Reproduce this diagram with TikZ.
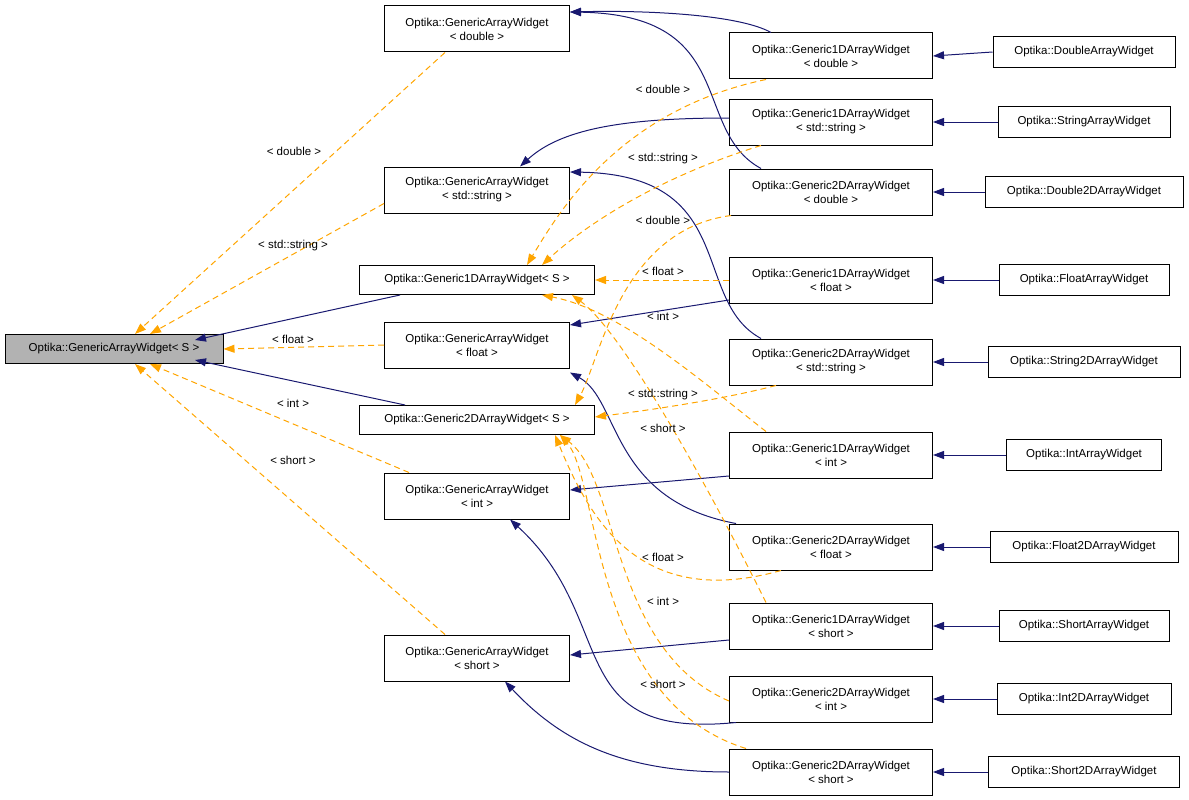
\documentclass[tikz,border=0pt]{standalone}
\usepackage{fontspec}
\setmainfont{Liberation Sans}
\usetikzlibrary{arrows.meta}
\definecolor{nav}{RGB}{25,25,112}
\definecolor{org}{RGB}{255,165,0}
\begin{document}
\begin{tikzpicture}[x=1pt,y=-1pt,line width=1pt,
  every node/.style={font=\fontsize{11.5}{14}\selectfont},
  box/.style={draw,fill=white,align=center,inner sep=0pt,minimum height=46},
  sbox/.style={draw,fill=white,inner sep=0pt,minimum height=29},
  c2/.style={box,minimum width=203},
  c3/.style={draw,fill=white,inner sep=0pt,minimum height=31},
  gt/.style={box,minimum width=185},
  nv/.style={draw=nav,-{Triangle[length=11pt,width=8pt,fill=nav]}},
  og/.style={draw=org,dash pattern=on 6pt off 4pt,-{Triangle[length=11pt,width=8pt,fill=org]}},
  lb/.style={inner sep=1pt,fill=none}]
\useasboundingbox (0,0) rectangle (1189,800);
% edges first so boxes sit on top
\begin{scope}[on background layer/.style={}]
\end{scope}
% nodes
\node[sbox,fill=gray!60,minimum width=218] (gs) at (114,349) {Optika::GenericArrayWidget< S >};
\node[gt] (gd) at (477,29) {Optika::GenericArrayWidget\\< double >};
\node[gt] (gstr) at (477,190) {Optika::GenericArrayWidget\\< std::string >};
\node[sbox,minimum width=235] (g1) at (477,280) {Optika::Generic1DArrayWidget< S >};
\node[gt] (gf) at (477,345) {Optika::GenericArrayWidget\\< float >};
\node[sbox,minimum width=235] (g2) at (477,420) {Optika::Generic2DArrayWidget< S >};
\node[gt] (gi) at (477,496) {Optika::GenericArrayWidget\\< int >};
\node[gt] (gsh) at (477,658) {Optika::GenericArrayWidget\\< short >};
\node[c2] (a1) at (831,56) {Optika::Generic1DArrayWidget\\< double >};
\node[c2] (a2) at (831,122) {Optika::Generic1DArrayWidget\\< std::string >};
\node[c2] (a3) at (831,192) {Optika::Generic2DArrayWidget\\< double >};
\node[c2] (a4) at (831,280) {Optika::Generic1DArrayWidget\\< float >};
\node[c2] (a5) at (831,362) {Optika::Generic2DArrayWidget\\< std::string >};
\node[c2] (a6) at (831,455) {Optika::Generic1DArrayWidget\\< int >};
\node[c2] (a7) at (831,547) {Optika::Generic2DArrayWidget\\< float >};
\node[c2] (a8) at (831,626) {Optika::Generic1DArrayWidget\\< short >};
\node[c2] (a9) at (831,699) {Optika::Generic2DArrayWidget\\< int >};
\node[c2] (a10) at (831,772) {Optika::Generic2DArrayWidget\\< short >};
\node[c3,minimum width=182] (b1) at (1084,52) {Optika::DoubleArrayWidget};
\node[c3,minimum width=172] (b2) at (1084,122) {Optika::StringArrayWidget};
\node[c3,minimum width=198] (b3) at (1084,192) {Optika::Double2DArrayWidget};
\node[c3,minimum width=170] (b4) at (1084,280) {Optika::FloatArrayWidget};
\node[c3,minimum width=192] (b5) at (1084,362) {Optika::String2DArrayWidget};
\node[c3,minimum width=155] (b6) at (1084,455) {Optika::IntArrayWidget};
\node[c3,minimum width=188] (b7) at (1084,547) {Optika::Float2DArrayWidget};
\node[c3,minimum width=170] (b8) at (1084,626) {Optika::ShortArrayWidget};
\node[c3,minimum width=174] (b9) at (1084,699) {Optika::Int2DArrayWidget};
\node[c3,minimum width=191] (b10) at (1084,772) {Optika::Short2DArrayWidget};
% col3 -> col2
\foreach \i in {1,...,10} {\draw[nv] (b\i.west) -- (a\i.east -| a\i.east);}
% col2 -> GAW<T>
\draw[nv] ([xshift=-60]a1.north) .. controls (740,15) and (650,10) .. ([yshift=17]gd.east);
\draw[nv] ([xshift=-70]a3.north) .. controls (690,130) and (740,15) .. ([yshift=17]gd.east);
\draw[nv] ([yshift=4]a2.west) .. controls (620,118) and (560,130) .. ([xshift=43]gstr.north);
\draw[nv] ([xshift=-70]a5.north) .. controls (690,300) and (740,175) .. ([yshift=18]gstr.east);
\draw[nv] ([yshift=-20]a4.west) -- ([yshift=20]gf.east);
\draw[nv] ([xshift=-95]a7.north) .. controls (610,500) and (620,400) .. ([xshift=93,yshift=-4]gf.south);
\draw[nv] ([yshift=-21]a6.west) -- ([yshift=6]gi.east);
\draw[nv] ([xshift=-95]a9.south) .. controls (560,740) and (620,620) .. ([xshift=33]gi.south);
\draw[nv] ([yshift=-14]a8.west) -- ([yshift=3]gsh.east);
\draw[nv] (a10.west) .. controls (620,772) and (560,740) .. ([xshift=28]gsh.south);
% col2 -> templates
\draw[og] ([xshift=-65]a1.south) .. controls (620,110) and (560,210) .. ([xshift=50]g1.north);
\draw[og] ([xshift=-70]a2.south) .. controls (650,180) and (580,230) .. ([xshift=65]g1.north);
\draw[og] (a4.west) -- (g1.east);
\draw[og] ([xshift=-65]a6.north) .. controls (700,380) and (620,310) .. ([xshift=65]g1.south);
\draw[og] ([xshift=-65]a8.north) .. controls (700,470) and (620,330) .. ([xshift=95]g1.south);
\draw[og] ([xshift=-100]a3.south) .. controls (620,230) and (600,360) .. ([xshift=98]g2.north);
\draw[og] ([xshift=-55]a5.south) .. controls (720,400) and (650,410) .. ([yshift=3]g2.east);
\draw[og] ([xshift=-50]a7.south) .. controls (640,610) and (590,520) .. ([xshift=78]g2.south);
\draw[og] ([yshift=-2]a9.west) .. controls (610,650) and (620,480) .. ([xshift=83]g2.south);
\draw[og] ([xshift=-85]a10.north) .. controls (590,700) and (600,480) .. ([xshift=83]g2.south);
\node[lb] (l1) at (663,89) {< double >};
\node[lb] (l2) at (663,159) {< std::string >};
\node[lb] (l6) at (663,220) {< double >};
\node[lb] (l3) at (663,271) {< float >};
\node[lb] (l4) at (663,316) {< int >};
\node[lb] (l7) at (663,395) {< std::string >};
\node[lb] (l5) at (663,428) {< short >};
\node[lb] (l8) at (663,557) {< float >};
\node[lb] (l9) at (663,601) {< int >};
\node[lb] (l10) at (663,684) {< short >};
% GAW<T> -> GAW<S>
\draw[og] ([xshift=-32]gd.south) -- ([xshift=21]gs.north);
\draw[og] ([yshift=10]gstr.south west) -- ([xshift=36]gs.north);
\draw[og] (gf.west) -- (gs.east);
\draw[og] ([xshift=25]gi.north west) -- ([xshift=36]gs.south);
\draw[og] ([xshift=-32]gsh.north) -- ([xshift=21]gs.south);
\node[lb] (m1) at (294,151) {< double >};
\node[lb] (m2) at (293,246) {< std::string >};
\node[lb] (m3) at (293,339) {< float >};
\node[lb] (m4) at (293,403) {< int >};
\node[lb] (m5) at (293,460) {< short >};
\draw[nv] ([xshift=-77]g1.south) -- ([xshift=81,yshift=-6]gs.north);
\draw[nv] ([xshift=-72]g2.north) -- ([xshift=81,yshift=4]gs.south);
\end{tikzpicture}
\end{document}
